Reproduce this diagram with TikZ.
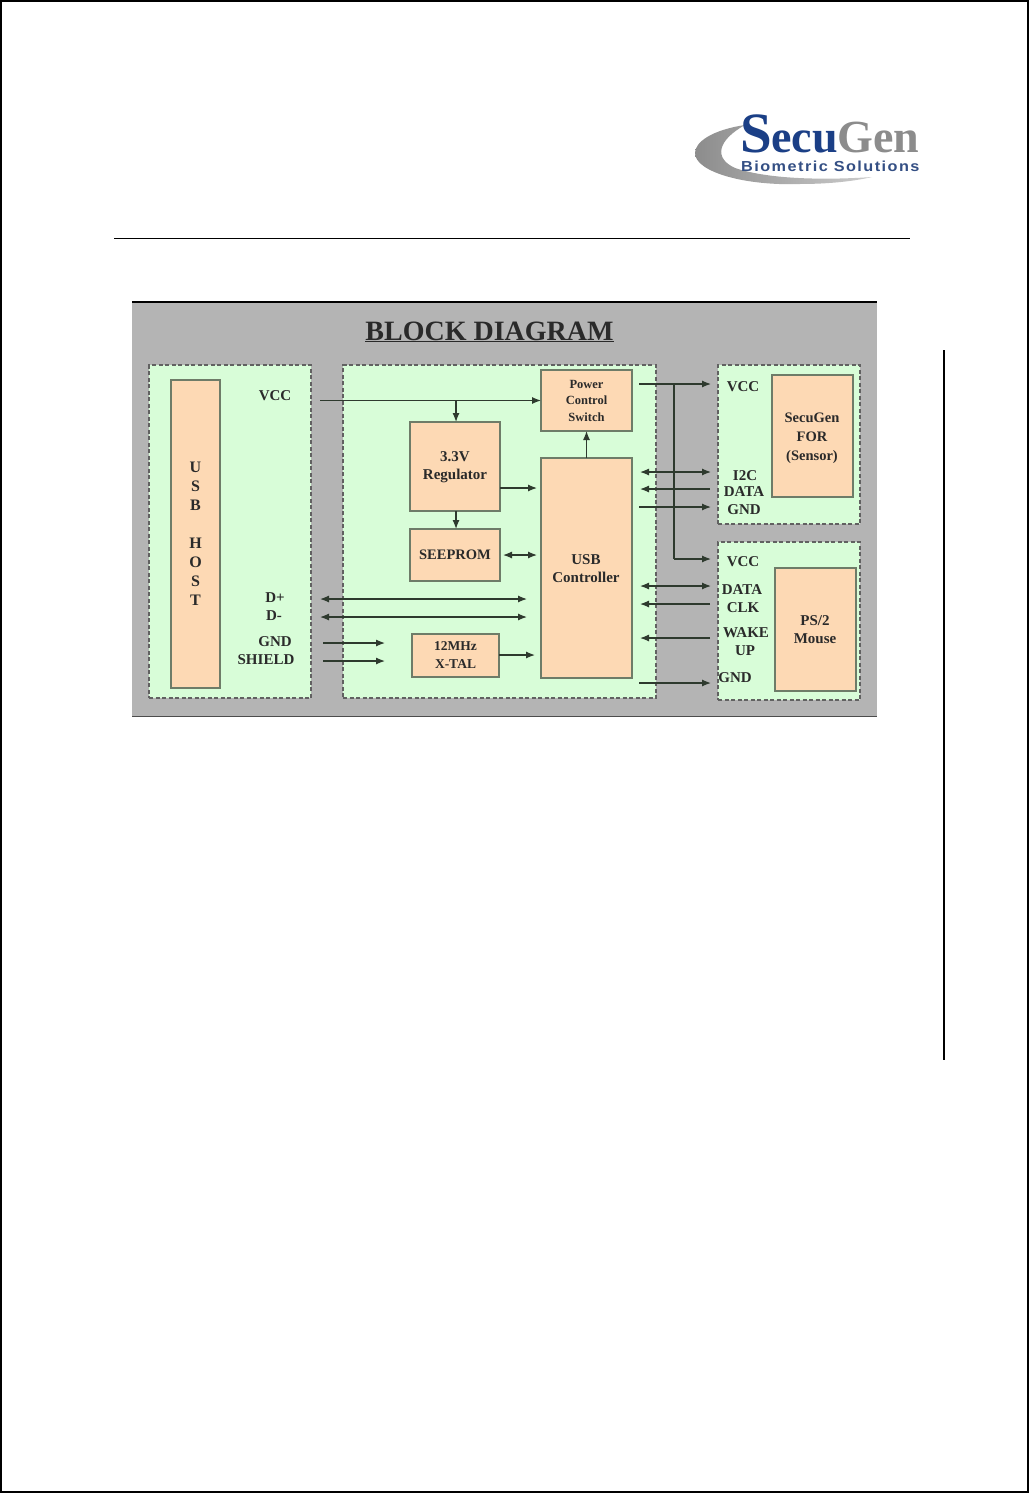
\documentclass[tikz,border=0pt]{standalone}
\usepackage{fontspec}
\setmainfont{Liberation Serif}
\newfontfamily\logosans[LetterSpace=9]{Liberation Sans}
\usetikzlibrary{arrows.meta}
\definecolor{panel}{HTML}{B4B4B4}
\definecolor{zonefill}{HTML}{D8FDD8}
\definecolor{blockfill}{HTML}{FDD9B4}
\definecolor{blockline}{HTML}{6E7C68}
\definecolor{wire}{HTML}{2E3A2E}
\definecolor{txt}{HTML}{2A2A2A}
\definecolor{secublue}{HTML}{1B3F86}
\definecolor{gengray}{HTML}{8C8C8C}
\tikzset{
  zone/.style={draw=black!62,fill=zonefill,line width=1.3pt,dash pattern=on 4pt off 2.5pt,inner sep=0pt,outer sep=0pt},
  block/.style={draw=blockline,fill=blockfill,line width=1.2pt,inner sep=0pt,outer sep=0pt,align=center,text=txt,
    font=\bfseries\fontsize{14.5}{18}\selectfont},
  lab/.style={inner sep=0pt,text=txt,align=center,font=\bfseries\fontsize{15}{18}\selectfont},
  wirea/.style={draw=wire,line width=1.2pt,-{Latex[length=9pt,width=7pt]}},
  wireb/.style={draw=wire,line width=1.2pt,{Latex[length=9pt,width=7pt]}-{Latex[length=9pt,width=7pt]}},
  wiren/.style={draw=wire,line width=1.2pt},
}
\begin{document}
\begin{tikzpicture}[x=1pt,y=-1pt]
\useasboundingbox (0,0) rectangle (1029,1493);
\fill[white] (0,0) rectangle (1029,1493);
\draw[black,line width=2pt] (1,1) rectangle (1028,1492);
% logo
\shade[left color=black!45,right color=black!20,draw=none]
  (745,125) .. controls (712,130) and (695,142) .. (695,153)
  .. controls (695,172) and (745,186) .. (800,184)
  .. controls (830,184) and (855,181) .. (872,177)
  .. controls (830,180) and (770,180) .. (735,168)
  .. controls (713,158) and (718,140) .. (745,125) -- cycle;
\node[anchor=base west,inner sep=0pt,text=secublue,font=\bfseries\fontsize{57}{57}\selectfont] (logoS) at (740,152) {S};
\node[anchor=base west,inner sep=0pt,text=secublue,font=\bfseries\fontsize{46}{46}\selectfont] (logoE) at (771,152) {ecu};
\node[anchor=base west,inner sep=0pt,text=gengray,font=\bfseries\fontsize{46}{46}\selectfont] (logoG) at (837,152) {Gen};
\node[anchor=base west,inner sep=0pt,text=secublue!75!gray,font=\logosans\bfseries\fontsize{14.5}{15}\selectfont] (logoB) at (741,171) {\scalebox{1.12}[1]{Biometric Solutions}};
% page rules
\coordinate (ruleL) at (114,238.5);
\coordinate (ruleR) at (910,238.5);
\draw[black,line width=1pt] (ruleL) -- (ruleR);
\coordinate (barT) at (944,350);
\coordinate (barB) at (944,1060);
\draw[black,line width=1.5pt] (barT) -- (barB);
% panel
\fill[panel] (132,301) rectangle (877,716);
\draw[black,line width=2pt] (132,302) -- (877,302);
\draw[black!70,line width=1pt] (132,716) -- (877,716);
\node[anchor=base,inner sep=0pt,text=txt,font=\bfseries\fontsize{28}{30}\selectfont] (title) at (489.5,340) {\underline{BLOCK DIAGRAM}};
% zones
\node[zone,minimum width=162pt,minimum height=333pt] (zhost) at (230,531.5) {};
\node[zone,minimum width=313pt,minimum height=333pt] (zmid) at (499.5,531.5) {};
\node[zone,minimum width=142pt,minimum height=159pt] (zsens) at (789,444.5) {};
\node[zone,minimum width=142pt,minimum height=158pt] (zmouse) at (789,621) {};
% blocks
\node[block,minimum width=49pt,minimum height=308pt,font=\bfseries\fontsize{16}{19}\selectfont] (host) at (195.5,534) {U\\S\\B\\[18.5pt]H\\O\\S\\T};
\node[block,minimum width=90pt,minimum height=89pt] (reg) at (455,466.5) {};
\node[lab] (regt) at (455,467) {3.3V\\Regulator};
\node[block,minimum width=90pt,minimum height=52pt] (seep) at (455,555) {SEEPROM};
\node[block,minimum width=87pt,minimum height=43pt,font=\bfseries\fontsize{13.5}{18}\selectfont] (xtal) at (455.5,655.5) {12MHz\\X-TAL};
\node[block,minimum width=91pt,minimum height=61pt,font=\bfseries\fontsize{12.5}{16.5}\selectfont] (pcs) at (586.5,400.5) {Power\\Control\\Switch};
\node[block,minimum width=91pt,minimum height=220pt] (ctrl) at (586.5,568) {};
\node[lab] (ctrlt) at (586,569) {USB\\Controller};
\node[block,minimum width=81pt,minimum height=122pt] (sens) at (812.5,436) {};
\node[lab,font=\bfseries\fontsize{14.5}{19}\selectfont] (senst) at (812,438) {SecuGen\\FOR\\(Sensor)};
\node[block,minimum width=81pt,minimum height=123pt] (ps2) at (815.5,629.5) {};
\node[lab] (ps2t) at (815,630) {PS/2\\Mouse};
% labels
\node[lab] (lvcc) at (275,396) {VCC};
\node[lab] (ldp) at (275,598) {D+};
\node[lab] (ldm) at (274,616) {D-};
\node[lab] (lgnd) at (275,642) {GND};
\node[lab] (lshield) at (266,660) {SHIELD};
\node[lab] (lvcc2) at (743,387) {VCC};
\node[lab] (li2c) at (745,476) {I2C};
\node[lab] (ldata) at (744,492) {DATA};
\node[lab] (lgnd2) at (744,510) {GND};
\node[lab] (lvcc3) at (743,562) {VCC};
\node[lab] (ldata2) at (742,590) {DATA};
\node[lab] (lclk) at (743,608) {CLK};
\node[lab] (lwake) at (746,633) {WAKE};
\node[lab] (lup) at (745,651) {UP};
\node[lab] (lgnd3) at (735,678) {GND};
% free wire ends
\coordinate (vccA) at (320,400.5);
\coordinate (vccB) at (456,400.5);
\coordinate (regIn) at (456,422);
\coordinate (dpA) at (320,599);
\coordinate (dpB) at (527,599);
\coordinate (dmA) at (320,617);
\coordinate (dmB) at (527,617);
\coordinate (gndA) at (323,643);
\coordinate (gndB) at (385,643);
\coordinate (shA) at (323,661);
\coordinate (shB) at (385,661);
\coordinate (pwA) at (639,384);
\coordinate (pwB) at (711,384);
\coordinate (pwJ) at (674,384);
\coordinate (pwK) at (674,559);
\coordinate (pwL) at (711,559);
\coordinate (i2cA) at (640,472);
\coordinate (i2cB) at (711,472);
\coordinate (sdA) at (640,489);
\coordinate (sdB) at (710,489);
\coordinate (sgA) at (639,507);
\coordinate (sgB) at (711,507);
\coordinate (mdA) at (640,586);
\coordinate (mdB) at (711,586);
\coordinate (mcA) at (640,604);
\coordinate (mcB) at (710,604);
\coordinate (mwA) at (640,638);
\coordinate (mwB) at (710,638);
\coordinate (mgA) at (639,683);
\coordinate (mgB) at (711,683);
\coordinate (regR) at (500,488);
\coordinate (seepR) at (500,555);
\coordinate (xtalR) at (499,655);
% wires
\draw[wirea] (vccA) -- (pcs.west |- vccA);
\draw[wirea] (vccB) -- (regIn);
\draw[wirea] (reg.south -| vccB) -- (seep.north -| vccB);
\draw[wirea,shorten >=4pt] (regR) -- (ctrl.west |- regR);
\draw[wireb,shorten >=4pt,shorten <=3pt] (seepR) -- (ctrl.west |- seepR);
\draw[wirea,shorten >=6pt] (xtalR) -- (ctrl.west |- xtalR);
\draw[wirea] (ctrl.north) -- (pcs.south);
\draw[wireb] (dpA) -- (dpB);
\draw[wireb] (dmA) -- (dmB);
\draw[wirea] (gndA) -- (gndB);
\draw[wirea] (shA) -- (shB);
\draw[wirea] (pwA) -- (pwB);
\draw[wiren] (pwJ) -- (pwK);
\draw[wirea] (pwK) -- (pwL);
\draw[wireb] (i2cA) -- (i2cB);
\draw[wirea] (sdB) -- (sdA);
\draw[wirea] (sgA) -- (sgB);
\draw[wireb] (mdA) -- (mdB);
\draw[wirea] (mcB) -- (mcA);
\draw[wirea] (mwB) -- (mwA);
\draw[wirea] (mgA) -- (mgB);
\end{tikzpicture}
\end{document}
